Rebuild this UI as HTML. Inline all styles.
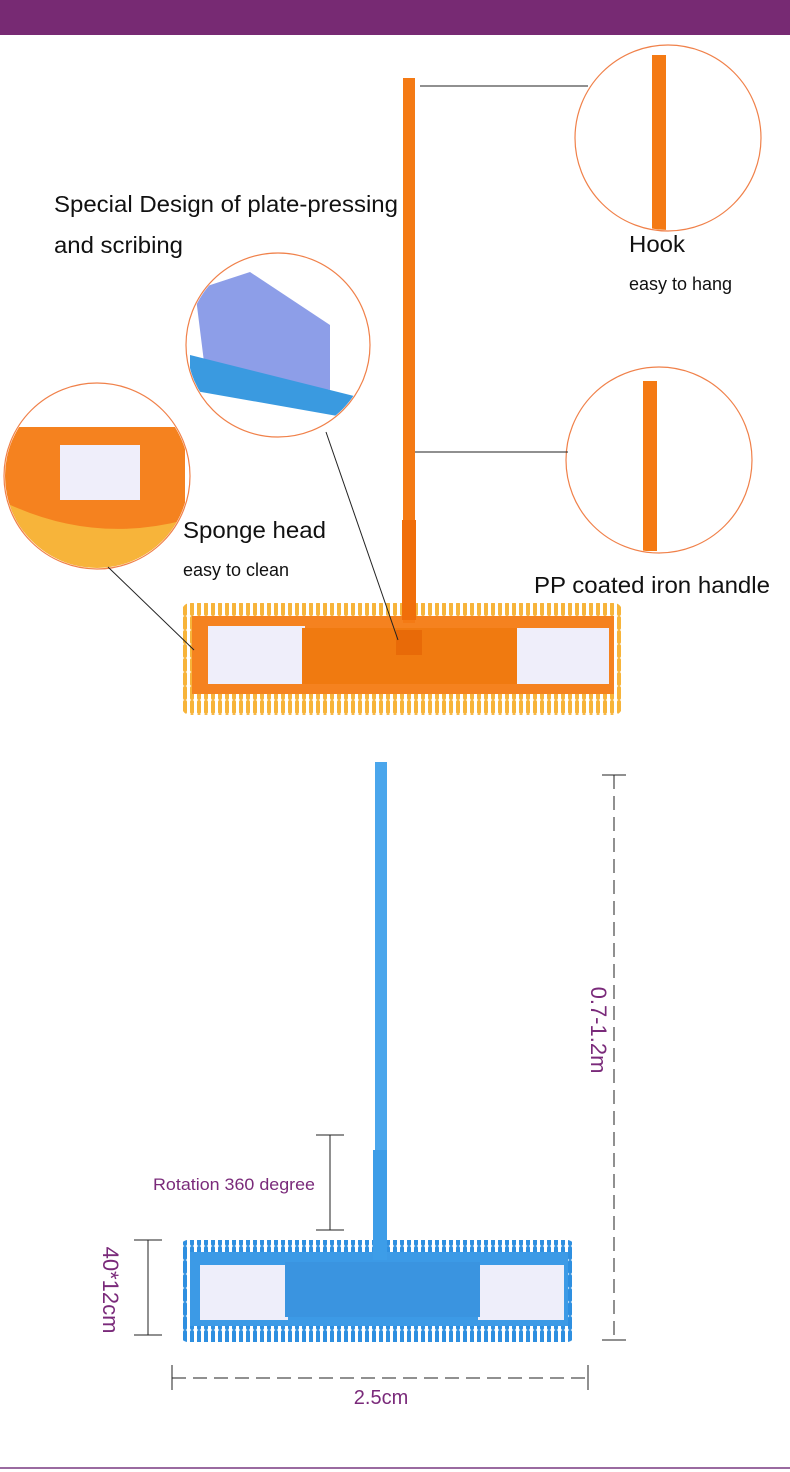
<!DOCTYPE html>
<html><head><meta charset="utf-8"><style>
html,body{margin:0;padding:0;background:#fff;}
svg{display:block}
text{font-family:"Liberation Sans",sans-serif}
</style></head><body>
<svg width="790" height="1472" viewBox="0 0 790 1472" xmlns="http://www.w3.org/2000/svg">
<defs>
<pattern id="fo" width="7" height="14" patternUnits="userSpaceOnUse"><rect width="7" height="14" fill="#fff"/><rect x="1" y="0" width="4" height="14" rx="2" fill="#f7b43a"/></pattern>
<pattern id="fb" width="7" height="14" patternUnits="userSpaceOnUse"><rect width="7" height="14" fill="#fff"/><rect x="1" y="0" width="4" height="14" rx="2" fill="#2e8fe0"/></pattern>
<clipPath id="c1"><circle cx="668" cy="138" r="92"/></clipPath>
<clipPath id="c2"><circle cx="659" cy="460" r="92"/></clipPath>
<clipPath id="c3"><circle cx="278" cy="345" r="91"/></clipPath>
<clipPath id="c4"><circle cx="97" cy="476" r="92"/></clipPath>
</defs>
<rect x="0" y="0" width="790" height="35" fill="#772a73"/>
<rect x="0" y="1467" width="790" height="2" fill="#9a6aa0"/>

<rect x="182" y="603" width="440" height="112" rx="8" fill="url(#fo)"/>
<rect x="192" y="616" width="422" height="78" fill="#f5821f"/>
<rect x="208" y="626" width="97" height="58" fill="#efeefa"/>
<rect x="517" y="628" width="92" height="56" fill="#efeefa"/>
<rect x="302" y="628" width="215" height="56" fill="#f07a10"/>
<rect x="403" y="78" width="12" height="545" fill="#f47a14"/>
<rect x="402" y="520" width="14" height="100" fill="#f06e0a"/>
<rect x="396" y="630" width="26" height="25" fill="#e86a08"/>

<g fill="#fff" stroke="#f0814a" stroke-width="1.2">
<circle cx="668" cy="138" r="93"/>
<circle cx="659" cy="460" r="93"/>
<circle cx="278" cy="345" r="92"/>
<circle cx="97" cy="476" r="93"/>
</g>
<g clip-path="url(#c1)"><rect x="652" y="55" width="14" height="175" fill="#f47a14"/></g>
<g clip-path="url(#c2)"><rect x="643" y="381" width="14" height="170" fill="#f47a14"/></g>
<g clip-path="url(#c4)">
<path d="M0 427 L185 427 L185 540 Q100 575 0 520 Z" fill="#f5821f"/>
<rect x="60" y="445" width="80" height="55" fill="#efeefa"/>
<path d="M0 500 Q90 545 185 520 L185 560 Q100 590 0 540 Z" fill="#f7b43a"/>
</g>
<g clip-path="url(#c3)">
<path d="M195 290 L250 272 L330 325 L330 390 L205 370 Z" fill="#8d9ee8"/>
<path d="M190 355 L370 400 L360 420 L190 390 Z" fill="#3a9ae0"/>
</g>

<g stroke="#222" stroke-width="1" fill="none">
<line x1="420" y1="86" x2="588" y2="86"/>
<line x1="415" y1="452" x2="568" y2="452"/>
<line x1="108" y1="567" x2="194" y2="650"/>
<line x1="326" y1="432" x2="398" y2="640"/>
</g>

<g fill="#111">
<text x="54" y="212" font-size="23" textLength="344" lengthAdjust="spacingAndGlyphs">Special Design of plate-pressing</text>
<text x="54" y="253" font-size="23" textLength="129" lengthAdjust="spacingAndGlyphs">and scribing</text>
<text x="629" y="252" font-size="23" textLength="56" lengthAdjust="spacingAndGlyphs">Hook</text>
<text x="629" y="290" font-size="18" textLength="103" lengthAdjust="spacingAndGlyphs">easy to hang</text>
<text x="183" y="538" font-size="23" textLength="143" lengthAdjust="spacingAndGlyphs">Sponge head</text>
<text x="183" y="576" font-size="18" textLength="106" lengthAdjust="spacingAndGlyphs">easy to clean</text>
<text x="534" y="593" font-size="23" textLength="236" lengthAdjust="spacingAndGlyphs">PP coated iron handle</text>
</g>

<rect x="180" y="1240" width="395" height="102" rx="8" fill="url(#fb)"/>
<rect x="190" y="1252" width="378" height="74" fill="#3c9ae6"/>
<rect x="200" y="1265" width="88" height="55" fill="#eeeefa"/>
<rect x="478" y="1265" width="86" height="55" fill="#eeeefa"/>
<rect x="285" y="1262" width="195" height="55" fill="#3a94e0"/>
<rect x="375" y="762" width="12" height="470" fill="#4aa6ec"/>
<rect x="373" y="1150" width="14" height="110" fill="#3d9de8"/>

<g stroke="#222" stroke-width="1" fill="none">
<line x1="614" y1="775" x2="614" y2="1340" stroke-dasharray="14,7"/>
<line x1="602" y1="775" x2="626" y2="775"/>
<line x1="602" y1="1340" x2="626" y2="1340"/>
<line x1="148" y1="1240" x2="148" y2="1335"/>
<line x1="134" y1="1240" x2="162" y2="1240"/>
<line x1="134" y1="1335" x2="162" y2="1335"/>
<line x1="172" y1="1378" x2="588" y2="1378" stroke-dasharray="14,7"/>
<line x1="172" y1="1365" x2="172" y2="1390"/>
<line x1="588" y1="1365" x2="588" y2="1390"/>
<line x1="330" y1="1135" x2="330" y2="1230"/>
<line x1="316" y1="1135" x2="344" y2="1135"/>
<line x1="316" y1="1230" x2="344" y2="1230"/>
</g>
<g fill="#7a2a7a">
<text x="153" y="1190" font-size="17" textLength="162" lengthAdjust="spacingAndGlyphs">Rotation 360 degree</text>
<text x="381" y="1404" font-size="20" text-anchor="middle">2.5cm</text>
<text transform="translate(591,1030) rotate(90)" font-size="22" text-anchor="middle">0.7-1.2m</text>
<text transform="translate(103,1290) rotate(90)" font-size="22" text-anchor="middle">40*12cm</text>
</g>
</svg>
</body></html>
